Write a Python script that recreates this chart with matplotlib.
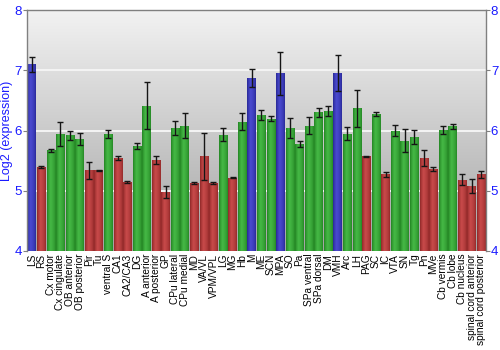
import numpy as np
import matplotlib
matplotlib.use("Agg")
import matplotlib.pyplot as plt
from matplotlib.colors import LinearSegmentedColormap

regions = ["LS", "RS", "Cx motor", "Cx cingulate", "OB anterior", "OB posterior", "Pir", "Tu",
           "ventral S", "CA1", "CA2/CA3", "DG", "A anterior", "A posterior", "GP", "CPu lateral",
           "CPu medial", "MD", "VA/VL", "VPM/VPL", "LG", "MG", "Hb", "M", "ME", "SCN", "MPA",
           "SO", "Pa", "SPa ventral", "SPa dorsal", "DM", "VMH", "Arc", "LH", "PAG", "SC", "IC",
           "VTA", "SN", "Tg", "Pn", "MVe", "Cb vermis", "Cb lobe", "Cb nucleus",
           "spinal cord anterior", "spinal cord posterior"]
values = [7.10, 5.39, 5.67, 5.94, 5.92, 5.86, 5.34, 5.34,
          5.94, 5.54, 5.15, 5.74, 6.41, 5.51, 4.98, 6.04,
          6.08, 5.13, 5.57, 5.13, 5.93, 5.22, 6.15, 6.87, 6.26, 6.20, 6.95,
          6.04, 5.78, 6.08, 6.30, 6.33, 6.96, 5.95, 6.37, 5.57, 6.27, 5.27,
          6.00, 5.83, 5.89, 5.54, 5.36, 6.01, 6.07, 5.18, 5.08, 5.27]
errors = [0.13, 0.02, 0.02, 0.20, 0.08, 0.10, 0.14, 0.01,
          0.07, 0.03, 0.02, 0.05, 0.39, 0.06, 0.10, 0.12,
          0.21, 0.01, 0.39, 0.02, 0.11, 0.005, 0.14, 0.15, 0.08, 0.04, 0.36,
          0.17, 0.05, 0.14, 0.08, 0.08, 0.30, 0.11, 0.31, 0.01, 0.03, 0.04,
          0.09, 0.19, 0.12, 0.13, 0.04, 0.06, 0.04, 0.09, 0.12, 0.06]
groups = ["b", "r", "g", "g", "g", "g", "r", "r",
          "g", "r", "r", "g", "g", "r", "r", "g",
          "g", "r", "r", "r", "g", "r", "g", "b", "g", "g", "b",
          "g", "g", "g", "g", "g", "b", "g", "g", "r", "g", "r",
          "g", "g", "g", "r", "r", "g", "g", "r", "r", "r"]
yticks = [4, 5, 6, 7, 8]

palette = {
    "b": ("#24248f", "#4a4ad0"),
    "r": ("#8a2424", "#c84a4a"),
    "g": ("#1f7f1f", "#45b845"),
}

fig = plt.figure(figsize=(5, 3.5), dpi=100)
ax = fig.add_axes([0.054, 0.283, 0.918, 0.688])
n = len(regions)
x = np.arange(n)
ax.set_xlim(-0.5, n - 0.5)
ax.set_ylim(4, 8)

# background gradient
bg = np.linspace(0, 1, 256).reshape(-1, 1)
bg_cmap = LinearSegmentedColormap.from_list("bg", ["#a4a4a4", "#f2f2f2"])
ax.imshow(bg, aspect="auto", cmap=bg_cmap, extent=[0, 1, 0, 1], transform=ax.transAxes,
          origin="lower", zorder=0)

for yv in [5, 6, 7]:
    ax.axhline(yv, color="#f4f4f4", lw=1.4, zorder=1)

width = 0.9
prof = np.concatenate([np.linspace(0, 1, 40) ** 0.7, np.linspace(1, 0, 60) ** 0.5])
grad = prof.reshape(1, -1)
bars = ax.bar(x, values, width=width, bottom=0, color="none", zorder=2)
for b, g in zip(bars, groups):
    dark, light = palette[g]
    cm = LinearSegmentedColormap.from_list("c" + g, [dark, light])
    x0 = b.get_x()
    im = ax.imshow(grad, aspect="auto", cmap=cm, extent=[x0, x0 + b.get_width(), 4, b.get_height()],
                   zorder=2, interpolation="bilinear")
    im.set_clip_path(b)

ax.errorbar(x, values, yerr=errors, fmt="none", ecolor="#151515", elinewidth=1.0,
            capsize=2.2, capthick=1.0, zorder=3)

ax.set_xticks(x)
ax.set_xticklabels(regions, rotation=90, fontsize=7.3, family="Liberation Sans")
ax.tick_params(axis="x", length=0, pad=2)
ax.set_yticks(yticks)
ax.tick_params(axis="y", which="both", direction="out", length=3, color="#808080",
               labelcolor="#1a1aff", labelsize=9.5, left=True, right=True,
               labelleft=True, labelright=True, pad=0.5)
for lab in ax.get_yticklabels():
    lab.set_family("Liberation Sans")
ax.set_ylabel("Log2 (expression)", color="#1a1aff", fontsize=9, family="Liberation Sans")
ax.yaxis.set_label_coords(-0.03, 0.5)

for s in ["left", "right", "top"]:
    ax.spines[s].set_color("#808080")
    ax.spines[s].set_linewidth(1.0)
ax.spines["bottom"].set_visible(False)

fig.savefig("out.png", dpi=100)
